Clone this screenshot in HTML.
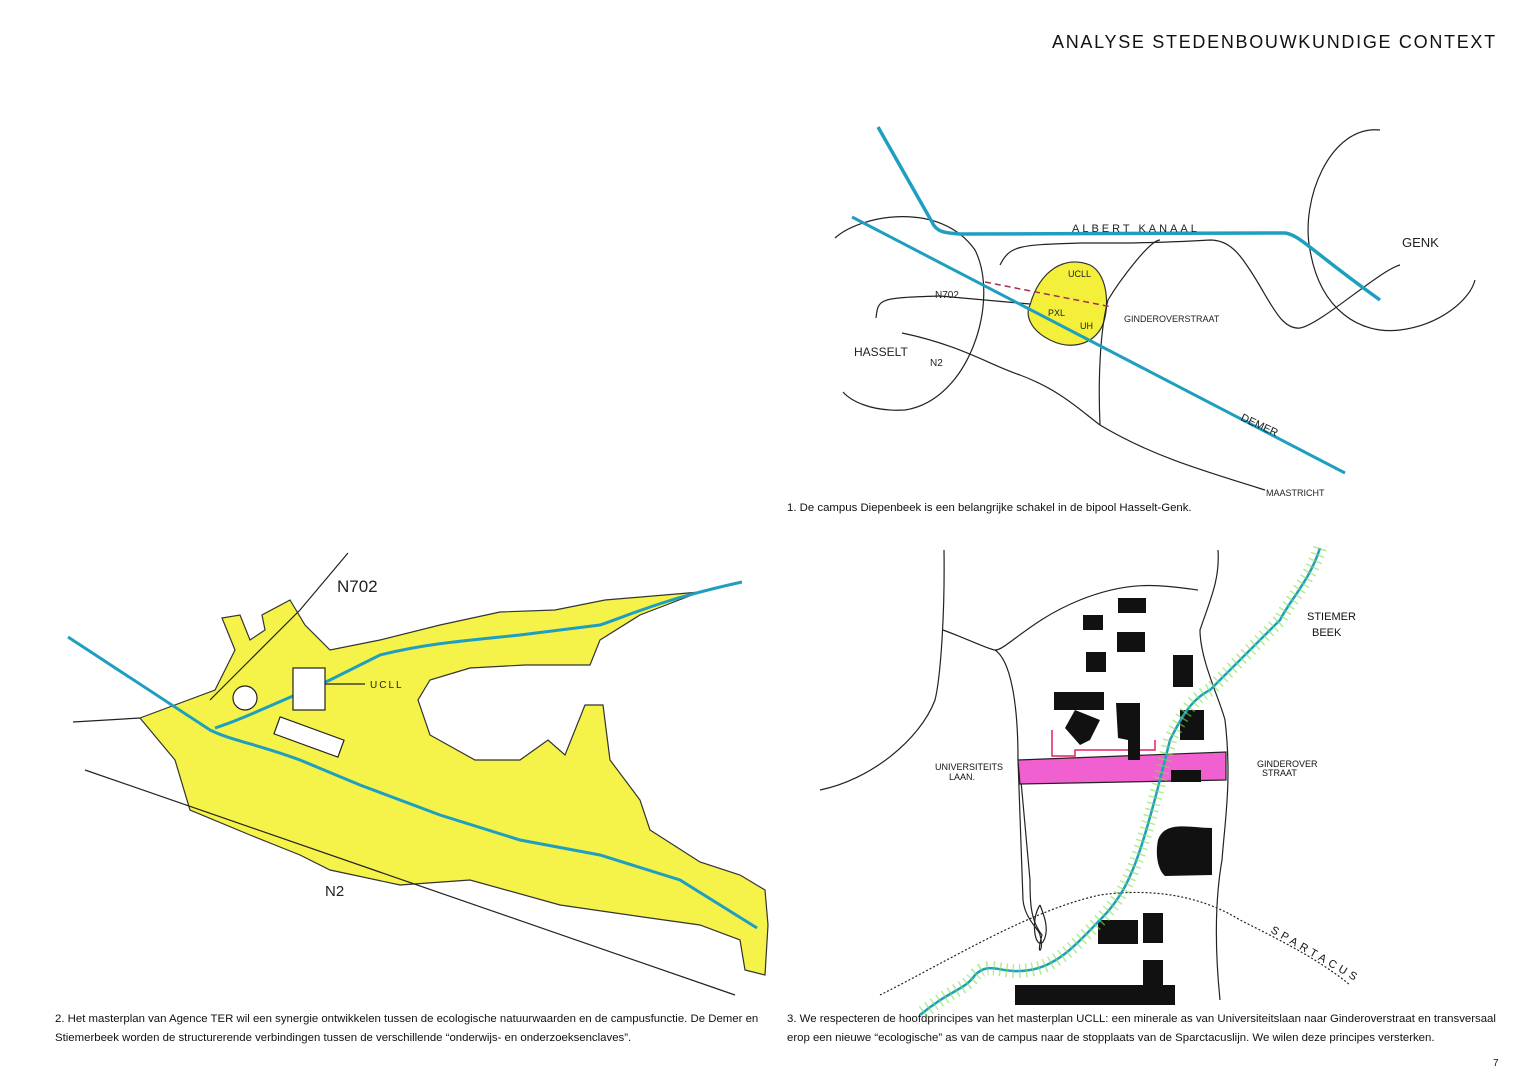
<!DOCTYPE html>
<html><head><meta charset="utf-8"><style>
body{margin:0;background:#fff;}
.wrap{position:relative;width:1536px;height:1084px;overflow:hidden;font-family:"Liberation Sans",sans-serif;}
.t{position:absolute;color:#111;}
</style></head><body><div class="wrap">
<div class="t" style="left:1052px;top:32px;font-size:18px;letter-spacing:1.7px;">ANALYSE STEDENBOUWKUNDIGE CONTEXT</div>
<div class="t" style="left:787px;top:502px;font-size:11.4px;">1. De campus Diepenbeek is een belangrijke schakel in de bipool Hasselt-Genk.</div>
<div class="t" style="left:55px;top:1010px;font-size:11.4px;line-height:19px;width:722px;">2. Het masterplan van Agence TER wil een synergie ontwikkelen tussen de ecologische natuurwaarden en de campusfunctie. De Demer en Stiemerbeek worden de structurerende verbindingen tussen de verschillende “onderwijs- en onderzoeksenclaves”.</div>
<div class="t" style="left:787px;top:1010px;font-size:11.4px;line-height:19px;width:722px;">3. We respecteren de hoofdprincipes van het masterplan UCLL: een minerale as van Universiteitslaan naar Ginderoverstraat en transversaal erop een nieuwe “ecologische” as van de campus naar de stopplaats van de Sparctacuslijn. We wilen deze principes versterken.</div>
<div class="t" style="left:1493px;top:1058px;font-size:10px;">7</div>
<svg width="1536" height="1084" style="position:absolute;left:0;top:0" fill="none" stroke="#222" stroke-width="1.2" font-family="Liberation Sans" >
<!-- Panel 1 -->
<path d="M1030,305 C1040,270 1065,255 1090,265 C1110,275 1110,315 1100,330 C1090,345 1070,350 1050,340 C1030,330 1025,315 1030,305Z" fill="#f3ef3a" stroke="#333"/>
<path d="M835,238 C860,215 940,200 975,250 C1000,300 970,400 905,410 C870,412 850,400 843,392"/>
<path d="M1380,130 C1330,125 1300,200 1310,250 C1320,310 1360,335 1400,330 C1440,325 1470,300 1475,280"/>
<path d="M876,318 C878,298 880,298 940,296 L1030,304"/>
<path d="M902,333 C960,345 990,365 1020,375 C1060,390 1080,410 1100,425 C1150,455 1200,470 1265,490"/>
<path d="M1100,425 C1098,380 1100,330 1108,300 C1120,280 1150,240 1160,240"/>
<path d="M1000,265 C1010,245 1020,245 1080,243 L1130,243 C1170,242 1180,242 1210,240 C1230,240 1240,255 1250,270 C1270,300 1280,330 1300,328 C1320,325 1380,270 1400,265"/>
<path d="M878,127 L932,222 C936,232 945,233 960,234 L1285,233 C1300,235 1310,250 1380,300" stroke="#1f9fc0" stroke-width="3.5"/>
<path d="M852,217 L1345,473" stroke="#1f9fc0" stroke-width="3"/>
<path d="M985,282 L1112,307" stroke="#a03050" stroke-dasharray="6 4" stroke-width="1.5"/>
<g fill="#222" stroke="none" font-size="11">
<text x="1072" y="232" letter-spacing="3">ALBERT KANAAL</text>
<text x="1402" y="247" font-size="13">GENK</text>
<text x="935" y="298" font-size="10">N702</text>
<text x="854" y="356" font-size="12">HASSELT</text>
<text x="930" y="366" font-size="10">N2</text>
<text x="1124" y="322" font-size="9">GINDEROVERSTRAAT</text>
<text x="1068" y="277" font-size="9">UCLL</text>
<text x="1048" y="316" font-size="9">PXL</text>
<text x="1080" y="329" font-size="9">UH</text>
<text x="1240" y="420" font-size="11" transform="rotate(25 1240 420)">DEMER</text>
<text x="1266" y="496" font-size="9">MAASTRICHT</text>
</g>
<!-- Panel 2 -->
<path d="M140,718 L215,690 L235,650 L222,618 L240,615 L250,640 L265,630 L262,615 L290,600 L305,625 L330,650 L380,640 L440,625 L500,612 L555,610 L605,600 L700,592 L640,615 L600,640 L590,665 L525,665 L470,668 L430,680 L418,700 L430,735 L475,760 L520,760 L548,740 L565,755 L585,705 L603,705 L610,760 L640,800 L650,830 L700,862 L740,875 L765,890 L768,925 L765,975 L745,970 L740,940 L700,925 L650,918 L560,905 L470,880 L400,885 L330,870 L300,855 L250,835 L190,810 L175,760 Z" fill="#f5f24a" stroke="#333"/>
<path d="M73,722 L140,718"/>
<path d="M348,553 L300,610 L250,660 L210,700"/>
<path d="M85,770 L735,995"/>
<path d="M68,637 L210,730 C230,740 260,745 300,760 L360,785 L440,815 L520,840 L600,855 L680,880 L757,928" stroke="#1f9fc0" stroke-width="3"/>
<path d="M215,728 C240,720 260,710 330,680 L380,655 C420,645 450,642 520,635 L600,625 C630,615 660,600 742,582" stroke="#1f9fc0" stroke-width="3"/>
<rect x="293" y="668" width="32" height="42" fill="#fff"/>
<rect x="275" y="728" width="68" height="18" fill="#fff" transform="rotate(20 309 737)"/>
<circle cx="245" cy="698" r="12" fill="#fff"/>
<path d="M325,684 L365,684"/>
<g fill="#222" stroke="none">
<text x="337" y="592" font-size="17">N702</text>
<text x="370" y="688" font-size="10" letter-spacing="2">UCLL</text>
<text x="325" y="896" font-size="15">N2</text>
</g>
<!-- Panel 3 -->
<path d="M944,550 C945,620 940,680 935,700 C920,740 870,780 820,790"/>
<path d="M943,630 C970,640 990,650 995,650 C1005,651 1030,620 1080,600 C1130,580 1160,585 1198,590"/>
<path d="M995,650 C1010,660 1018,700 1018,760 L1023,900 C1025,920 1040,930 1040,935 C1045,950 1035,960 1042,935 C1030,920 1030,900 1030,880 L1020,770"/>
<path d="M1040,905 C1030,920 1035,950 1043,942 C1050,930 1044,915 1040,905"/>
<path d="M1218,550 C1220,580 1210,600 1200,630 C1200,660 1220,700 1225,720 C1232,780 1225,820 1222,860 C1215,900 1215,950 1220,1000"/>
<path d="M880,995 C950,960 1030,910 1100,895 C1150,888 1200,895 1240,920 C1280,940 1320,960 1350,985" stroke-dasharray="2 2"/>
<path d="M1018,760 L1226,752 L1226,780 L1020,784 Z" fill="#f060d0" stroke="#222"/>
<path d="M1052,730 L1052,756 L1075,756 L1075,750 L1155,750 L1155,740" stroke="#e02060" stroke-width="1.5"/>
<g fill="#111" stroke="none">
<rect x="1083" y="615" width="20" height="15"/>
<rect x="1118" y="598" width="28" height="15"/>
<rect x="1117" y="632" width="28" height="20"/>
<rect x="1086" y="652" width="20" height="20"/>
<rect x="1173" y="655" width="20" height="32"/>
<rect x="1054" y="692" width="50" height="18"/>
<path d="M1075,710 L1100,720 L1090,740 L1080,745 L1065,728Z"/>
<path d="M1116,703 L1140,703 L1140,760 L1128,760 L1128,740 L1118,738Z"/>
<rect x="1180" y="710" width="24" height="30"/>
<rect x="1171" y="770" width="30" height="12"/>
<path d="M1158,840 C1165,820 1190,828 1212,828 L1212,875 L1165,876 C1158,870 1155,855 1158,840Z"/>
<rect x="1098" y="920" width="40" height="24"/>
<rect x="1143" y="913" width="20" height="30"/>
<rect x="1143" y="960" width="20" height="30"/>
<rect x="1015" y="985" width="160" height="20"/>
<text x="935" y="770" font-size="9">UNIVERSITEITS</text>
<text x="949" y="780" font-size="9">LAAN.</text>
<text x="1257" y="767" font-size="9">GINDEROVER</text>
<text x="1262" y="776" font-size="9">STRAAT</text>
<text x="1307" y="620" font-size="11">STIEMER</text>
<text x="1312" y="636" font-size="11">BEEK</text>
<text x="1270" y="932" font-size="11" letter-spacing="4" transform="rotate(30 1270 932)">SPARTACUS</text>
</g>
<path d="M1320,548 C1310,580 1290,600 1280,620 C1250,650 1230,670 1210,690 C1190,700 1180,720 1170,740 C1160,780 1150,820 1140,850 C1130,880 1120,900 1100,920 C1080,940 1060,965 1030,970 C1000,975 990,960 975,975 C965,990 950,990 920,1015" stroke="#1f9fc0" stroke-width="2.5"/>
<path d="M1320,548 C1310,580 1290,600 1280,620 C1250,650 1230,670 1210,690 C1190,700 1180,720 1170,740 C1160,780 1150,820 1140,850 C1130,880 1120,900 1100,920 C1080,940 1060,965 1030,970 C1000,975 990,960 975,975 C965,990 950,990 920,1015" stroke="#7ee050" stroke-width="14" stroke-dasharray="1.5 5" opacity="0.6"/>
</svg>
</div></body></html>
